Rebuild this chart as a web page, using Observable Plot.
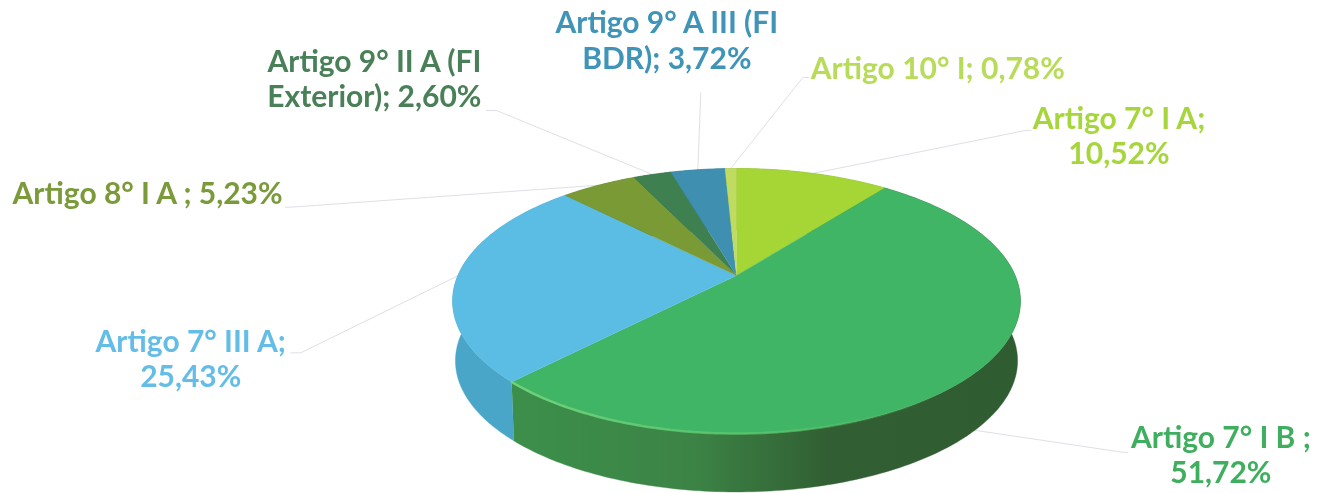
<!DOCTYPE html>
<html lang="pt">
<head>
<meta charset="utf-8">
<style>html,body{margin:0;padding:0;background:#fff}svg{display:block}</style>
<script src="https://cdn.jsdelivr.net/npm/d3@7"></script>
<script src="https://cdn.jsdelivr.net/npm/@observablehq/plot@0.6"></script>
</head>
<body>
<div id="chart"></div>
<script>
// Data, clockwise from twelve o'clock
const categories = ["Artigo 7° I A", "Artigo 7° I B", "Artigo 7° III A", "Artigo 8° I A", "Artigo 9° II A", "Artigo 9° A III", "Artigo 10° I"];
const shares = [10.52, 51.72, 25.43, 5.23, 2.60, 3.72, 0.78];
const labelTexts = ["Artigo 7° I A;\n10,52%", "Artigo 7° I B ;\n51,72%", "Artigo 7° III A;\n25,43%", "Artigo 8° I A ; 5,23%", "Artigo 9° II A (FI\nExterior); 2,60%", "Artigo 9° A III (FI\nBDR); 3,72%", "Artigo 10° I; 0,78%"];

// Styles
const topColors = ["#a5d636", "#40b565", "#5bbce4", "#7a9a35", "#3f8050", "#3e8fb0", "#c0dc60"];
const sideColors = ["#7fa52a", "url(#greenSide)", "#4aa6c8", "#5e7a2a", "#306540", "#2f7390", "#93ab48"];
const textColors = ["#a6d63c", "#3fae5f", "#63bde6", "#7b9a3a", "#4a8058", "#3f94b8", "#b8dc5a"];

// Label layout, as offsets from each slice's rim point
const labelDx = [306, 246, -267, -451, -278, -31, 207];
const labelDy = [-38, 24, 82, 7, -96, -130, -101];
const elbowDx = [213, 148, -157, -308, -156, 3, 72];
const elbowDy = [-43, 22, 77, 22, -64, -77, -91];
const tipDx = [5, 5, -10, -5, -10, 0, 6];
const leaderOnBase = [false, true, false, false, false, false, false];

// Perspective view of the disc
const view = {cx: 736, cy: 275, a: 278.6, b: 127.6, p: 0.1925, depth: 60, baseScale: 0.99};
function rim(turn, base = false) {
  const t = turn * 2 * Math.PI, u = Math.sin(t), v = -Math.cos(t), d = 1 - view.p * v, k = base ? view.baseScale : 1;
  return {x: view.cx + k * view.a * u / d, y: view.cy + (base ? view.depth : 0) + k * view.b * v / d};
}
function arc(t0, t1, base = false) {
  const n = Math.max(2, Math.ceil((t1 - t0) * 360));
  return d3.range(n + 1).map(i => rim(t0 + (t1 - t0) * i / n, base));
}

const total = d3.sum(shares);
let cum = 0;
const slices = categories.map((name, i) => {
  const t0 = cum / total;
  cum += shares[i];
  return {name, i, t0, t1: cum / total, mid: (t0 + cum / total) / 2};
});

const sideRows = slices.flatMap(s =>
  [...arc(s.t0, s.t1), ...arc(s.t0, s.t1, true).reverse()].map(p => ({...p, id: s.i, c: sideColors[s.i]})));
const topRows = slices.flatMap(s =>
  [{x: view.cx, y: view.cy}, ...arc(s.t0, s.t1)].map(p => ({...p, id: s.i, c: topColors[s.i]})));
const green = slices[1];
const glowRows = arc(green.t0 + (green.t1 - green.t0) * 0.28, green.t1);

const anchors = slices.map(s => rim(s.mid, leaderOnBase[s.i]));
const leaderRows = slices.flatMap(s => {
  const a = anchors[s.i], ex = a.x + elbowDx[s.i], ey = a.y + elbowDy[s.i];
  return [a, {x: ex, y: ey}, {x: ex + tipDx[s.i], y: ey}].map(p => ({...p, id: s.i}));
});
const labelRows = slices.map(s => ({
  x: anchors[s.i].x + labelDx[s.i],
  y: anchors[s.i].y + labelDy[s.i],
  text: labelTexts[s.i],
  c: textColors[s.i]
}));

function defs() {
  const g = d3.create("svg:g");
  const d = g.append("defs");
  const grad = (id, stops) => {
    const lg = d.append("linearGradient").attr("id", id).attr("gradientUnits", "userSpaceOnUse")
      .attr("x1", 513).attr("x2", 1020).attr("y1", 0).attr("y2", 0);
    stops.forEach(([o, c, a = 1]) => lg.append("stop").attr("offset", o).attr("stop-color", c).attr("stop-opacity", a));
  };
  grad("greenSide", [[0, "#3c8f4a"], [0.35, "#3c8446"], [0.62, "#315f33"], [1, "#2f5c31"]]);
  grad("greenGlow", [[0, "#6fd37c"], [0.55, "#58c56c", 0.7], [0.85, "#50bd68", 0]]);
  return g.node();
}

const plot = Plot.plot({
  width: 1324, height: 493, margin: 0,
  x: {domain: [0, 1324], range: [0, 1324], axis: null},
  y: {domain: [0, 493], range: [0, 493], axis: null},
  color: {type: "identity"},
  style: {background: "#fff", filter: "blur(0.5px)"},
  marks: [
    defs,
    Plot.line(leaderRows, {x: "x", y: "y", z: "id", stroke: "#dde0e6", strokeWidth: 1}),
    Plot.line(sideRows, {x: "x", y: "y", z: "id", fill: "c", stroke: "c", strokeWidth: 0.4}),
    Plot.line(topRows, {x: "x", y: "y", z: "id", fill: "c", stroke: "c", strokeWidth: 0.4}),
    Plot.line(glowRows, {x: "x", y: "y", stroke: "url(#greenGlow)", strokeWidth: 2.5}),
    Plot.text(labelRows, {
      x: "x", y: "y", text: "text", fill: "c",
      fontFamily: "Lato", fontWeight: 700, fontSize: 30,
      lineHeight: 1.18, lineAnchor: "middle", textAnchor: "middle"
    })
  ]
});
document.getElementById("chart").append(plot);
</script>
</body>
</html>
